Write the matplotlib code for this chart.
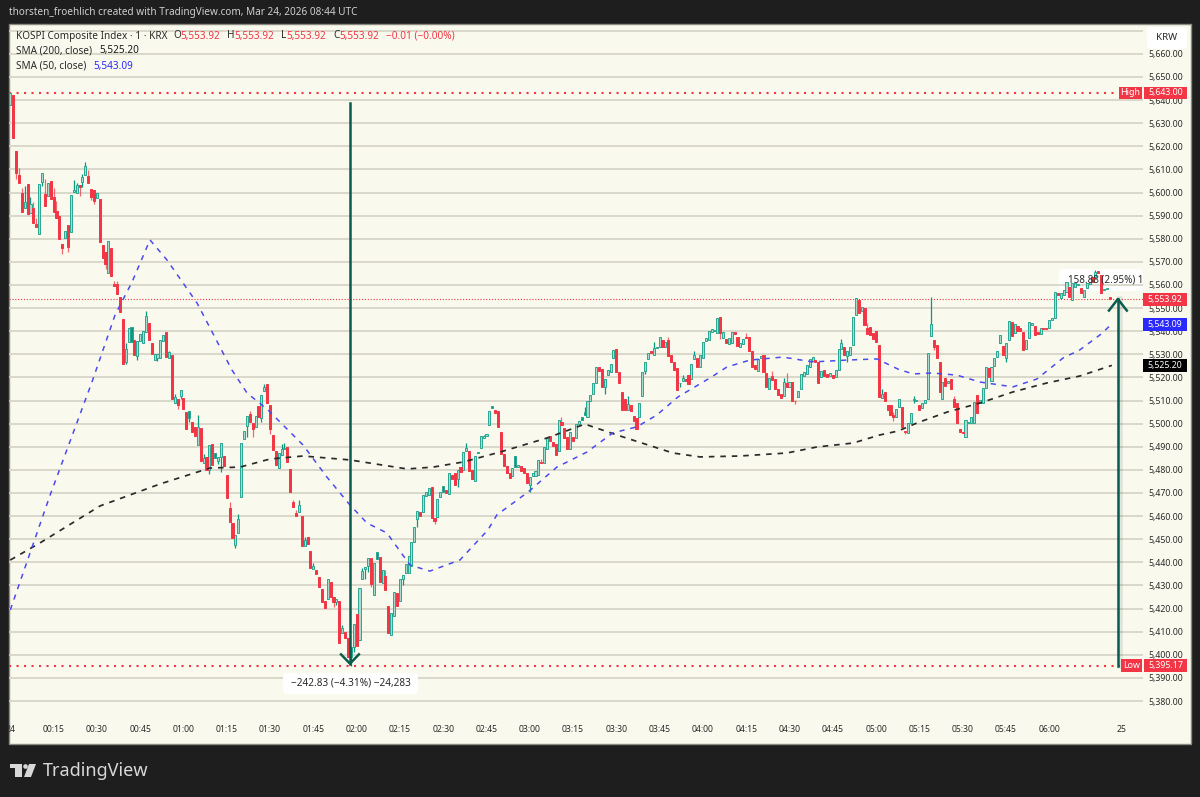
import matplotlib
matplotlib.use("Agg")
from matplotlib import pyplot as plt
from matplotlib.patches import FancyBboxPatch, Polygon, Circle
from matplotlib.transforms import IdentityTransform, Bbox
import numpy as np

plt.rcParams['font.family'] = ['Noto Sans', 'DejaVu Sans']

# 1 minute candles
opens = [
    5638, 5642.2, 5618, 5607.6, 5600, 5593.4, 5603.5, 5591.3, 5593.1, 5586.3,
    5581.9, 5604.7, 5599.5, 5598.5, 5605, 5597.9, 5592, 5589.8, 5577.8, 5580.4,
    5585.9, 5583, 5600.3, 5599.9, 5603.2, 5604.4, 5607.4, 5607, 5601.6, 5601.2,
    5597.6, 5597, 5577.3, 5574.1, 5565.3, 5576, 5560.4, 5560.4, 5554.6, 5545.2,
    5526.8, 5535.4, 5535.4, 5536.1, 5529.3, 5535.8, 5535, 5539.7, 5543.6, 5535,
    5527.7, 5528.2, 5528.5, 5535.8, 5539.7, 5528.5, 5529.6, 5508.8, 5510.5, 5512,
    5510.9, 5505, 5502.6, 5500.6, 5498.7, 5490.9, 5498.1, 5483.1, 5485.4, 5480,
    5491, 5485.3, 5484, 5485.4, 5486, 5477.6, 5463.3, 5457.1, 5447.5, 5452.8,
    5468.1, 5493.2, 5499.1, 5504, 5500.1, 5498.7, 5507.6, 5502.6, 5514.3, 5517.1,
    5508, 5495.2, 5488.1, 5480.7, 5486.4, 5489, 5489.7, 5480.4, 5466.1, 5461.5,
    5461.9, 5460, 5447, 5450.8, 5444.7, 5437, 5436.8, 5433.6, 5428.3, 5423.1,
    5424, 5431.6, 5424.8, 5423, 5423.4, 5409.3, 5410, 5407.1, 5399.2, 5403.5,
    5417.6, 5406.4, 5432.6, 5437.1, 5438.5, 5441.7, 5425.8, 5441.4, 5442.1, 5431.2,
    5434, 5421.1, 5408.5, 5416.9, 5426.6, 5423.2, 5433, 5435.2, 5435.2, 5438.4,
    5448.9, 5458.6, 5461.9, 5461.9, 5468.8, 5469.1, 5472.7, 5459, 5459.4, 5468.1,
    5470.5, 5471.3, 5469.5, 5477.8, 5478.8, 5476, 5481.1, 5479.9, 5488.3, 5488.3,
    5479.9, 5475.2, 5487.1, 5489.3, 5493.9, 5494.6, 5499.5, 5506.6, 5505.7, 5505.4,
    5496.2, 5486.8, 5481.6, 5478.5, 5477.3, 5481.4, 5481.1, 5481.6, 5480.6, 5478.5,
    5473.4, 5477.3, 5477.3, 5477.8, 5483.5, 5482.8, 5489, 5494.8, 5492.2, 5491,
    5488.3, 5500.8, 5498.1, 5494.3, 5489, 5494.3, 5493.9, 5499.8, 5501.6, 5503.7,
    5503, 5510, 5512.7, 5517.7, 5524.3, 5523.6, 5515.7, 5521, 5522.5, 5528.5,
    5532.1, 5522.5, 5513.8, 5510.5, 5505.9, 5508, 5503.3, 5502.3, 5503, 5512,
    5522.8, 5527.8, 5531.6, 5529.7, 5532.6, 5533.3, 5536.2, 5533, 5536.2, 5529.7,
    5526.8, 5523.9, 5517.4, 5518.6, 5519.3, 5521, 5519.1, 5527.8, 5528.2, 5524.6,
    5528.2, 5535.9, 5536.2, 5539.8, 5539.9, 5539, 5546.3, 5536.9, 5536.6, 5534.4,
    5534.7, 5539.8, 5537.3, 5533, 5534.3, 5537.3, 5537.3, 5531.4, 5525.3, 5522.9,
    5528.2, 5529.7, 5521.7, 5515, 5520.6, 5519.3, 5515, 5512.8, 5512.1, 5517.7,
    5516, 5518.1, 5510, 5511.6, 5514.8, 5520.7, 5521.4, 5524.6, 5527.2, 5527.5,
    5526.8, 5520, 5523.2, 5521.4, 5520.6, 5521, 5520, 5523.2, 5532.1, 5533,
    5529.4, 5529.7, 5534, 5547, 5553.5, 5548.9, 5549.9, 5541.5, 5541.9, 5539,
    5540.2, 5534, 5510.9, 5513.8, 5508, 5508, 5503.7, 5503, 5507.3, 5507.3,
    5496.6, 5495.8, 5500.1, 5510.2, 5510, 5508, 5506.6, 5508.8, 5510.5, 5537.9,
    5536.2, 5534, 5526.8, 5510.5, 5519.6, 5517.7, 5519.2, 5510.5, 5509.1, 5497.5,
    5496.5, 5494.4, 5500.2, 5500.1, 5500.1, 5512.4, 5508.8, 5508.8, 5515.3, 5523.9,
    5518.6, 5524.9, 5529, 5535, 5533.6, 5528.3, 5536.2, 5544.1, 5539, 5542.4,
    5541.2, 5539.8, 5532.1, 5536.9, 5542.7, 5542.4, 5539.8, 5538.8, 5541.5, 5541.5,
    5541.2, 5544.8, 5545.6, 5556.4, 5554.2, 5555.7, 5557.1, 5559.3, 5553.5, 5559.3,
    5559.8, 5558.5, 5554.9, 5558.5, 5560.4, 5563.6, 5563.6, 5566, 5564.3, 5557.8,
    5558.4, 5554.6,
]
closes = [
    5643, 5623.7, 5608.6, 5604.2, 5591.7, 5595.7, 5590.5, 5594.9, 5586.8, 5585.2,
    5603.5, 5608.3, 5594.3, 5604, 5597.2, 5591.4, 5589.1, 5579.9, 5576, 5583.4,
    5576.4, 5598.9, 5601.2, 5603.2, 5602.5, 5606.5, 5611.4, 5604.2, 5598.2, 5596.2,
    5599.6, 5578.6, 5571.8, 5569, 5578.9, 5563.9, 5559.5, 5555.9, 5548.4, 5526,
    5532.5, 5541.2, 5541.6, 5529.6, 5535.8, 5538.6, 5540, 5546.6, 5536, 5530,
    5530.3, 5530.3, 5536.4, 5538.3, 5528.9, 5530.8, 5510.5, 5511.4, 5507.9, 5514.4,
    5506.3, 5497.7, 5505.3, 5496.5, 5494.6, 5498.4, 5483.8, 5485.3, 5480, 5490.6,
    5482.1, 5487.1, 5485.7, 5491.5, 5481.7, 5467.8, 5457.6, 5450.6, 5451.8, 5458.7,
    5491.5, 5496.8, 5503.4, 5500.8, 5497.7, 5503.4, 5502.7, 5512.5, 5515.7, 5508.9,
    5497.5, 5488.6, 5482.1, 5487.1, 5489, 5489.3, 5483.4, 5470.6, 5464.1, 5460.2,
    5464.8, 5447, 5449.6, 5447.9, 5437.4, 5438.4, 5434.9, 5429.2, 5423, 5420.1,
    5433, 5425.1, 5423, 5424.3, 5405.2, 5411.4, 5407.1, 5399.2, 5403.5, 5413.3,
    5403.8, 5429, 5436.2, 5438.1, 5441.7, 5430.6, 5439.8, 5444.6, 5431.6, 5436.7,
    5428, 5409.6, 5417.9, 5427, 5421.1, 5433, 5434.5, 5439.1, 5442.7, 5448.9,
    5455.1, 5462.3, 5460.2, 5469.1, 5470.5, 5472, 5459.3, 5458, 5467.4, 5470.3,
    5473, 5469.8, 5478.8, 5476, 5473.4, 5479.9, 5479.2, 5487.9, 5489.3, 5479.6,
    5476, 5486.1, 5487.9, 5494.8, 5494.6, 5495.5, 5505.3, 5507.6, 5504.7, 5498.4,
    5486.8, 5481.6, 5478.5, 5476.3, 5480.6, 5486, 5482.1, 5479.6, 5478.5, 5474.4,
    5477, 5478.8, 5479.6, 5484.2, 5482.8, 5489.7, 5493.6, 5492.6, 5490.3, 5486.5,
    5501.5, 5499.4, 5494, 5489, 5496.2, 5492.6, 5499.7, 5501.3, 5502.7, 5505.2,
    5509.8, 5512.4, 5517.4, 5524.6, 5522.9, 5515.7, 5519.2, 5523.2, 5525.8, 5531.8,
    5522.2, 5517.7, 5505.9, 5505.9, 5508.5, 5505.4, 5501.3, 5497.7, 5509.1, 5522.5,
    5526.5, 5530.7, 5530.4, 5532.6, 5533.2, 5537.6, 5533.3, 5535.4, 5529.4, 5526.8,
    5523.2, 5514.5, 5517.6, 5519.6, 5518.6, 5517, 5526, 5529.7, 5524.3, 5529.7,
    5535.4, 5537.2, 5540.2, 5540.8, 5540.5, 5545.5, 5539, 5539.8, 5535, 5536.9,
    5539.8, 5538.6, 5533.7, 5534.7, 5536.6, 5537, 5531.4, 5524.6, 5523.5, 5527.8,
    5529.4, 5522.2, 5516, 5519.6, 5518.9, 5515, 5512.4, 5511.2, 5518.1, 5516,
    5518.1, 5509.9, 5509.9, 5514.1, 5521.4, 5522.2, 5525.3, 5527.8, 5528.7, 5526.5,
    5517.7, 5522.8, 5520.7, 5520, 5521.7, 5519.6, 5523.2, 5532.1, 5534.7, 5529.7,
    5531.4, 5533, 5546, 5554.2, 5548, 5550.3, 5542.7, 5538.6, 5538.3, 5536.5,
    5535.2, 5511.6, 5513, 5509.8, 5505.9, 5503.7, 5503, 5506.2, 5510.5, 5498.7,
    5496.3, 5500.4, 5504.5, 5510.5, 5510.3, 5505.9, 5508.8, 5510.2, 5530.4, 5543,
    5533, 5528.3, 5513.8, 5517.9, 5516.3, 5518.6, 5514.8, 5507.3, 5500.1, 5496.5,
    5495.8, 5501.6, 5500.6, 5502.7, 5509.5, 5504.5, 5510.2, 5515.3, 5524.4, 5520,
    5524.6, 5528.3, 5531.6, 5538.3, 5529.7, 5535, 5544.5, 5537.9, 5543, 5540.2,
    5540.2, 5531.9, 5536.2, 5544.1, 5543.7, 5538.3, 5538.8, 5541.2, 5540.8, 5541,
    5544.8, 5545.8, 5556.8, 5555.7, 5556.4, 5557.8, 5561.4, 5554.9, 5560.7, 5560.7,
    5560.6, 5556.4, 5557.8, 5560.7, 5561.4, 5561.4, 5565.8, 5565, 5556.4, 5558.2,
    5558.5, 5553.92,
]
# wick ends where they stick out of the body
wick_hi = {3: 5610.4, 4: 5601.8, 5: 5602.8, 7: 5597.9, 8: 5595.7, 9: 5588.8, 12: 5605.7, 15: 5602,
           16: 5596.3, 22: 5605.4, 23: 5604, 25: 5608, 26: 5613, 27: 5609.7, 36: 5561.8, 37: 5561.8,
           40: 5534.7, 47: 5548.7, 55: 5531.5, 57: 5512.8, 65: 5503.7, 67: 5486.9, 76: 5466.2, 79: 5460.7,
           83: 5505.5, 88: 5517.1, 94: 5491.2, 95: 5491.8, 98: 5467, 99: 5462.6, 100: 5467, 102: 5450.8,
           105: 5439.8, 115: 5412.9, 122: 5437.4, 130: 5436.7, 158: 5491.7, 164: 5495, 184: 5484.5,
           191: 5502.7, 199: 5507, 214: 5512, 223: 5535.5, 228: 5537.6, 233: 5521, 237: 5531.4, 255: 5539,
           264: 5522.8, 268: 5519.6, 269: 5521.7, 288: 5536.5, 297: 5543.7, 302: 5514.8, 306: 5505.2,
           313: 5512, 319: 5554.9, 327: 5512, 376: 5566.5}
wick_lo = {2: 5606, 11: 5603, 18: 5573.2, 20: 5574.4, 24: 5598.5, 25: 5602.2, 28: 5596.8, 29: 5595.2,
           33: 5566.9, 40: 5526, 44: 5527.7, 51: 5527.2, 58: 5506.3, 59: 5510.5, 62: 5500.8, 69: 5478.2,
           72: 5482.4, 73: 5478.9, 78: 5446, 82: 5494.4, 84: 5494.4, 87: 5500.8, 90: 5495.5, 112: 5420.8,
           113: 5421.5, 118: 5395.17, 119: 5401.3, 123: 5433, 124: 5436, 125: 5429.2, 136: 5430, 141: 5455.4,
           147: 5456.5, 155: 5472.4, 180: 5470.5, 206: 5512.8, 220: 5521.3, 232: 5515.7, 246: 5536.6,
           272: 5508.5, 290: 5526.8, 306: 5501.3, 310: 5495.5, 313: 5509, 320: 5531.9, 345: 5526.5}
# small up candles that look solid
solid_up = [42, 62, 71, 118, 127, 150, 162, 167, 175, 198, 199]

# moving averages, read at the bends of the dashed lines
sma50_x = [0, 13.8, 28.3, 36.3, 42.2, 48.4, 54.3, 64.7, 76.8, 82, 89.3, 101.4, 109.7, 117.7, 123.6, 130.5,
           138.5, 145.4, 155.8, 165.5, 168.6, 179.4, 189.4, 199.8, 208.8, 217.1, 224, 231.3, 243, 248.3,
           256.3, 267.7, 278.1, 289.9, 300.3, 307.6, 312.8, 319.4, 328, 336, 347.4, 355.7, 364.8, 370.6,
           377.6, 381.7]
sma50_y = [5419.4, 5469.1, 5518, 5547, 5561.3, 5579.5, 5570.8, 5552.2, 5523.2, 5513.3, 5505.9, 5490.8, 5476.9,
           5464.8, 5457, 5452.7, 5438.8, 5436.2, 5441, 5454, 5460.5, 5470.4, 5481.2, 5487.7, 5496, 5498.6,
           5503.7, 5511.5, 5520.2, 5524.5, 5527.5, 5528.8, 5526.7, 5527.5, 5528, 5523.6, 5521.5, 5521.9, 5521,
           5518, 5515.9, 5519.3, 5528.4, 5531.9, 5538.4, 5543.09]
sma200_x = [0, 10.3, 31.1, 51.9, 69.2, 79.6, 90, 101.4, 117.7, 137.5, 146.5, 156.9, 169.7, 186, 199.1, 210.2,
            219.9, 229.6, 239, 252.8, 269.1, 279.5, 292, 301.3, 307.6, 314.2, 324.6, 336, 347.4, 359.2,
            370.6, 381.7]
sma200_y = [5441, 5448.4, 5464.4, 5473.9, 5480.8, 5481.2, 5484.7, 5486, 5484.3, 5480.4, 5481.2, 5483.4, 5487.7,
            5493.8, 5499.8, 5495.1, 5491.2, 5487.3, 5485.6, 5486, 5487.3, 5489.9, 5491.6, 5495.1, 5496.8,
            5500.3, 5505, 5508.9, 5513.7, 5517.6, 5520.6, 5525.2]

time_ticks = [0, 15, 30, 45, 60, 75, 90, 105, 120, 135, 150, 165, 180, 195, 210, 225, 240, 255, 270, 285,
              300, 315, 330, 345, 360, 385]
time_labels = ['24', '00:15', '00:30', '00:45', '01:00', '01:15', '01:30', '01:45', '02:00', '02:15', '02:30',
               '02:45', '03:00', '03:15', '03:30', '03:45', '04:00', '04:15', '04:30', '04:45', '05:00',
               '05:15', '05:30', '05:45', '06:00', '25']
price_ticks = list(range(5380, 5680, 10))

high_val = 5643.00
low_val = 5395.17
last_val = 5553.92
sma50_last = 5543.09
sma200_last = 5525.20

BG = '#1e1e1e'
PANE = '#faf9ed'
GRID = '#d3d2c3'
RED = '#f23645'
TEAL = '#089981'
MEASURE = '#0b5c4e'
TXT = '#2a2a2a'
H = 797

fig = plt.figure(figsize=(12, 7.97), dpi=100, facecolor=BG)
ID = IdentityTransform()


def box(x0, y0, x1, y1, color, z, rnd=0.0, edge='none', lw=0):
    # pixel box, y counted from the top of the image
    style = 'round,pad=0,rounding_size=%s' % rnd if rnd else 'square,pad=0'
    fig.add_artist(FancyBboxPatch((x0, H - y1), x1 - x0, y1 - y0, boxstyle=style, facecolor=color,
                                  edgecolor=edge, linewidth=lw, transform=ID, zorder=z))


def label(x, y, s, color=TXT, size=7.2, ha='left', z=6, **kw):
    return fig.text(x, H - y, s, color=color, fontsize=size, ha=ha, va='center', transform=ID, zorder=z, **kw)


box(9, 24, 1191, 744, PANE, -2, edge='#8a8a80', lw=1)

ax = fig.add_axes([9 / 1200, (H - 744) / H, 1134 / 1200, 720 / H], zorder=1)
ax.patch.set_visible(False)
for s in ax.spines.values():
    s.set_visible(False)
ax.set_xlim(-0.45, 392.5)
ax.set_ylim(5361.4, 5672.9)

ax.yaxis.tick_right()
ax.set_yticks(price_ticks)
# the top gridline has its label hidden behind the KRW box
ax.set_yticklabels(['{:,.2f}'.format(p) if p < 5670 else '' for p in price_ticks], color=TXT, fontsize=6.3)
ax.tick_params(axis='y', length=0, pad=28.8)
for t in ax.get_yticklabels():
    t.set_ha('right')
ax.set_xticks(time_ticks)
ax.set_xticklabels(time_labels, color=TXT, fontsize=6.2)
ax.tick_params(axis='x', length=0, pad=-14)
for t, lab in zip(ax.get_xticklabels(), time_labels):
    t.set_clip_on(True)
    t.set_clip_box(Bbox([[9, 0], [1191, H]]))
    if lab == '25':
        t.set_fontweight('bold')
ax.grid(axis='y', color=GRID, lw=1.2, zorder=0)
ax.set_axisbelow(True)

# candles
bars = np.arange(len(opens))
op = np.array(opens)
cl = np.array(closes)
up = cl >= op
hi = np.array([wick_hi.get(i, max(opens[i], closes[i])) for i in bars])
lo = np.array([wick_lo.get(i, min(opens[i], closes[i])) for i in bars])

ax.vlines(bars[up], lo[up], hi[up], color=TEAL, lw=0.9, zorder=3)
ax.vlines(bars[~up], lo[~up], hi[~up], color=RED, lw=0.9, alpha=0.75, zorder=3)
up_fill = ['#089981' if i in solid_up else '#a5dccf' for i in bars[up]]
ax.bar(bars[up], (cl - op)[up], bottom=op[up], width=0.72, color=up_fill, edgecolor='#2aa692', linewidth=0.7, zorder=4)
ax.bar(bars[~up], (op - cl)[~up], bottom=cl[~up], width=0.72, color=RED, edgecolor=RED, linewidth=0.7, zorder=4)

# moving averages
ax.plot(sma200_x, sma200_y, color='#2b2b2b', lw=1.25, ls=(0, (3.2, 3.4)), zorder=5)
ax.plot(sma50_x, sma50_y, color='#4b4bf0', lw=1.1, ls=(0, (3.4, 3.8)), zorder=5)

# high / low / last lines
ax.plot([-0.45, 384.6], [high_val, high_val], color=RED, lw=1.5, ls=(0, (1, 2.6)), zorder=2)
ax.plot([-0.45, 384.6], [low_val, low_val], color=RED, lw=1.5, ls=(0, (1, 2.6)), zorder=2)
ax.axhline(last_val, color=RED, lw=0.8, ls=(0, (1, 1.6)), zorder=2)

# measure arrows
ARROW_DOWN_X = 117.7
ARROW_UP_X = 383.8
ax.plot([ARROW_DOWN_X, ARROW_DOWN_X], [5638.7, low_val + 1], color=MEASURE, lw=1.8, zorder=6)
ax.plot([ARROW_DOWN_X - 3.1, ARROW_DOWN_X, ARROW_DOWN_X + 3.1], [low_val + 5, low_val + 1, low_val + 5],
        color=MEASURE, lw=1.8, zorder=6)
ax.plot([ARROW_UP_X + 0.8, ARROW_UP_X + 0.8], [low_val, last_val], color=MEASURE, lw=4, alpha=0.12, zorder=6)
ax.plot([ARROW_UP_X, ARROW_UP_X], [low_val, last_val], color=MEASURE, lw=1.8, zorder=6)
ax.plot([ARROW_UP_X - 3.1, ARROW_UP_X, ARROW_UP_X + 3.1], [last_val - 5, last_val, last_val - 5],
        color=MEASURE, lw=1.8, zorder=6)

# measure labels
box(283, 673, 418, 694, 'white', 5, rnd=3)
label(350.5, 683, '\u2212242.83 (\u22124.31%) \u221224,283', ha='center')
box(1059, 269, 1143, 291, 'white', -1, rnd=3)
t158 = label(1068, 280, '158.88 (2.95%) 1', size=7.1)
t158.set_clip_on(True)
t158.set_clip_box(Bbox([[1059, 0], [1143, H]]))

# price tags on the axis
box(1119, 87, 1142, 99, RED, 5)
label(1130.5, 92.7, 'High', color='white', ha='center', size=6.4, fontweight='bold')
box(1144, 87, 1187, 99, RED, 5)
label(1165.5, 92.7, '5,643.00', color='white', ha='center', size=6.3, fontweight='bold')
box(1121, 659, 1142, 672, RED, 5)
label(1131.5, 665.7, 'Low', color='white', ha='center', size=6.4, fontweight='bold')
box(1144, 659, 1187, 672, RED, 5)
label(1165.5, 665.7, '5,395.17', color='white', ha='center', size=6.3, fontweight='bold')
box(1143, 293, 1187, 306, RED, 5)
label(1165, 299.5, '5,553.92', color='white', ha='center', size=6.3, fontweight='bold')
box(1143, 318, 1187, 331, '#2a2aff', 5)
label(1165, 324.5, '5,543.09', color='white', ha='center', size=6.3, fontweight='bold')
box(1143, 359, 1187, 372, '#000000', 5)
label(1165, 365.5, '5,525.20', color='white', ha='center', size=6.3, fontweight='bold')
box(1147, 27, 1187, 49, 'white', 5, rnd=3)
label(1167, 38, 'KRW', ha='center', size=7.0)

# header text
label(9, 13, 'thorsten_froehlich created with TradingView.com, Mar 24, 2026 08:44 UTC', color='#cfcfcf', size=7.2)
label(16, 36, 'KOSPI Composite Index \u00b7 1 \u00b7 KRX')
for x, s in [(173, 'O'), (227, 'H'), (281, 'L'), (333, 'C')]:
    label(x, 36, s)
for x in [180, 234, 286, 339]:
    label(x, 36, '5,553.92', color=RED)
label(386, 36, '\u22120.01 (\u22120.00%)', color=RED)
label(16, 51, 'SMA (200, close)')
label(99, 51, '5,525.20', color='#1a1a1a')
label(16, 66, 'SMA (50, close)')
label(93, 66, '5,543.09', color='#2a2aff')

# logo
LOGO = '#d8d8d8'
fig.add_artist(Polygon([(10, H - 764), (22, H - 764), (22, H - 777), (15, H - 777), (15, H - 768), (10, H - 768)],
                       facecolor=LOGO, transform=ID))
fig.add_artist(Circle((25.5, H - 766.5), 2.3, facecolor=LOGO, transform=ID))
fig.add_artist(Polygon([(29, H - 764), (36, H - 764), (31, H - 777), (24, H - 777)], facecolor=LOGO, transform=ID))
label(43, 771, 'TradingView', color=LOGO, size=13, fontweight='semibold')

fig.savefig('out.png', dpi=100, facecolor=BG)
